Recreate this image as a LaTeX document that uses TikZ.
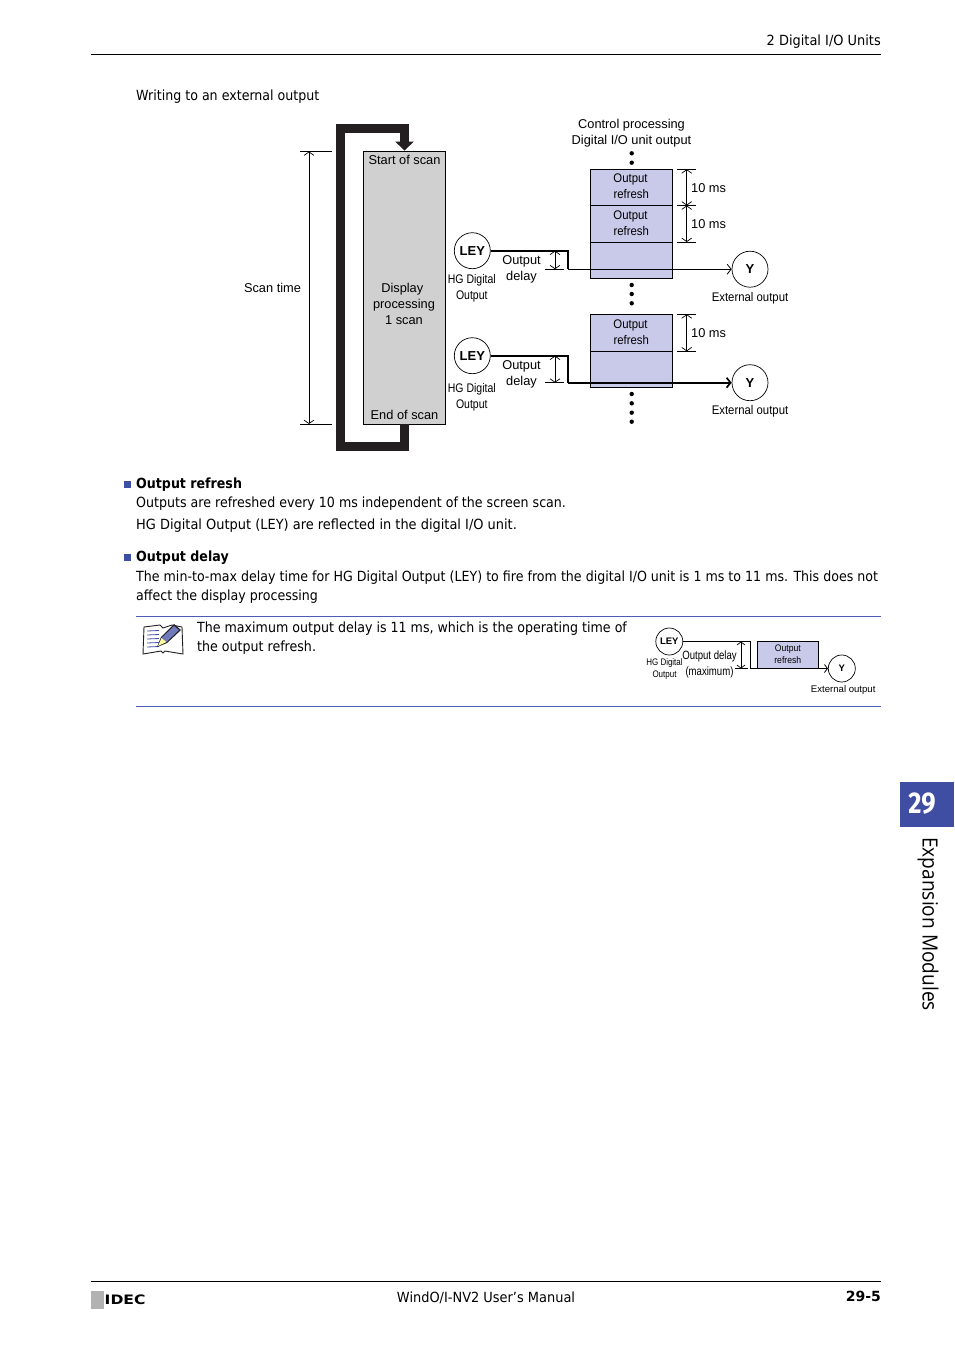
\documentclass[tikz,border=0pt]{standalone}
\usepackage{fontspec}
\usetikzlibrary{arrows.meta}
\setmainfont{Liberation Sans}
\newfontfamily\bodyfont[FakeStretch=0.902]{DejaVu Sans}
\newfontfamily\bodywide[FakeStretch=0.925]{DejaVu Sans}
\newfontfamily\pagefont{DejaVu Sans}
\newfontfamily\idecfont[FakeStretch=1.2]{DejaVu Sans}
\newfontfamily\hgfont[FakeStretch=0.84]{Liberation Sans}
\newfontfamily\delayfont[FakeStretch=0.8]{Liberation Sans}
\newfontfamily\extfont[FakeStretch=0.91]{Liberation Sans}
\newfontfamily\reffont[FakeStretch=0.91]{Liberation Sans}
\newfontfamily\tabfont[FakeStretch=0.85]{Fira Sans}
\newfontfamily\sidefont[FakeStretch=0.91]{Open Sans}
\definecolor{loopblack}{HTML}{231F20}
\definecolor{scangray}{HTML}{D0D0D0}
\definecolor{refreshblue}{HTML}{C9C9E9}
\definecolor{tabblue}{HTML}{3F4EA3}
\definecolor{noteblue}{HTML}{4A5CB8}
\tikzset{
  body/.style={anchor=base west, inner sep=0pt, font=\bodyfont\fontsize{14}{16}\selectfont},
  bodyhead/.style={body, font=\bodyfont\bfseries\fontsize{14}{16}\selectfont},
  lbl/.style={inner sep=0pt, font=\fontsize{12.8}{16}\selectfont, align=center},
  hglbl/.style={inner sep=0pt, font=\hgfont\fontsize{12.5}{16}\selectfont, align=center},
  extlbl/.style={inner sep=0pt, font=\extfont\fontsize{12.5}{16}\selectfont},
  scanbox/.style={draw, fill=scangray, line width=0.8pt, minimum width=82pt, minimum height=273pt, inner sep=0pt},
  refreshbox/.style={draw, fill=refreshblue, line width=0.8pt, minimum width=82pt, inner sep=0pt, text depth=2pt, align=center, font=\reffont\fontsize{12.5}{16}\selectfont},
  ioball/.style={draw, circle, line width=0.7pt, minimum size=36pt, inner sep=0pt, font=\bfseries\fontsize{13}{15}\selectfont},
  smallball/.style={draw, circle, line width=0.7pt, minimum size=27pt, inner sep=0pt, font=\bfseries\fontsize{9.5}{11}\selectfont},
  dimline/.style={line width=0.7pt, {Straight Barb[length=3.5pt,width=10pt]}-{Straight Barb[length=3.5pt,width=10pt]}},
  tick/.style={line width=0.7pt},
  sigthick/.style={line width=1.7pt},
  sigthin/.style={line width=0.8pt},
  sigarrow/.style={-{Straight Barb[length=4pt,width=10pt]}},
  dotnode/.style={circle, fill=black, inner sep=0pt, minimum size=4.4pt},
  pagerule/.style={line width=0.8pt},
  noterule/.style={line width=0.8pt, noteblue},
  bulletbox/.style={fill=tabblue, inner sep=0pt, minimum size=7pt}
}
\begin{document}
\begin{tikzpicture}[x=1pt, y=-1pt]
  \useasboundingbox (0,0) rectangle (954,1350);
  \fill[white] (0,0) rectangle (954,1350);

  % Header
  \node[body, anchor=base east, font=\bodywide\fontsize{14}{16}\selectfont] (header) at (881,45) {2 Digital I/O Units};
  \draw[pagerule] (91,54) -- (881,54);
  \node[body] (intro) at (136,100) {Writing to an external output};

  % Scan loop
  \node[scanbox] (scan) at (404.5,287.5) {};
  \draw[line width=9pt, loopblack, -{Triangle[length=9pt,width=18pt]}]
    (scan.south) -- (404.5,446.5) -- (340.5,446.5) -- (340.5,128.5) -- (404.5,128.5) -- (scan.north);
  \node[lbl] (scanstart) at (404.5,159.5) {Start of scan};
  \node[lbl] (scanmid) at (404,303.5) {Display\kern3.5pt\\processing\\1 scan};
  \node[lbl] (scanend) at (404.5,414.5) {End of scan};

  % Scan time
  \coordinate (stA) at (309,151.5);
  \coordinate (stB) at (309,424);
  \draw[tick] (300,151.5) -- (332,151.5);
  \draw[tick] (300,424) -- (332,424);
  \draw[dimline] (stA) -- (stB);
  \node[lbl] (scantime) at (272.5,288) {Scan time};

  % Output refresh blocks
  \node[refreshbox, minimum height=36pt] (rA) at (631.3,187.3) {Output\kern1.5pt\\refresh};
  \node[refreshbox, minimum height=37pt] (rB) at (631.3,223.8) {Output\kern1.5pt\\refresh};
  \node[refreshbox, minimum height=36pt] (rC) at (631.3,260.3) {};
  \node[refreshbox, minimum height=37pt] (rD) at (631.3,332.8) {Output\kern1.5pt\\refresh};
  \node[refreshbox, minimum height=36pt] (rE) at (631.3,369.3) {};
  \node[lbl] (ctrl) at (631.5,133) {Control processing\\Digital I/O unit output};

  % Dots
  \foreach \y in {153.3,162.7,285,294,303.3,394,403.3,412.7,421.7}
    \node[dotnode] at (631.7,\y) {};

  % 10 ms
  \foreach \y in {169.3,205.5,242,314.3,351.3}
    \draw[tick] (677,\y) -- (695.7,\y);
  \coordinate (tA) at (686.7,169.3);
  \coordinate (tB) at (686.7,205.5);
  \coordinate (tC) at (686.7,242);
  \coordinate (tD) at (686.7,314.3);
  \coordinate (tE) at (686.7,351.3);
  \draw[dimline] (tA) -- (tB);
  \draw[dimline] (tB) -- (tC);
  \draw[dimline] (tD) -- (tE);
  \node[lbl, anchor=west] (msA) at (691,188.5) {10 ms};
  \node[lbl, anchor=west] (msB) at (691,224.5) {10 ms};
  \node[lbl, anchor=west] (msC) at (691,333.5) {10 ms};

  % LEY and Y, first
  \node[ioball] (leyA) at (472.3,250.7) {LEY};
  \node[hglbl] (hgA) at (471.8,288) {HG Digital\\Output};
  \node[ioball] (yA) at (750,269.2) {Y};
  \node[extlbl] (extA) at (750,298) {External output};
  \coordinate (dropA) at (568,269.2);
  \draw[sigthick] (leyA.east) -- (568,250.7) -- (dropA);
  \draw[sigthin, sigarrow] (dropA) -- (yA.west);
  \node[lbl] (delayA) at (521.5,269) {Output\\delay};
  \coordinate (dA) at (555,250.7);
  \coordinate (dB) at (555,269.2);
  \draw[tick] (545,269.2) -- (564,269.2);
  \draw[dimline] (dA) -- (dB);

  % LEY and Y, second
  \node[ioball] (leyB) at (472.3,355.7) {LEY};
  \node[hglbl] (hgB) at (471.8,397) {HG Digital\\Output};
  \node[ioball] (yB) at (750,382.7) {Y};
  \node[extlbl] (extB) at (750,411) {External output};
  \coordinate (dropB) at (568,382.7);
  \draw[sigthick] (leyB.east) -- (568,355.7) -- (dropB);
  \draw[sigthick, sigarrow] (dropB) -- (yB.west);
  \node[lbl] (delayB) at (521.5,374) {Output\\delay};
  \coordinate (dC) at (555,355.7);
  \coordinate (dD) at (555,382.7);
  \draw[tick] (545,382.7) -- (564,382.7);
  \draw[dimline] (dC) -- (dD);

  % Text
  \node[bulletbox] (bulA) at (127,484) {};
  \node[bodyhead] (headA) at (136,488) {Output refresh};
  \node[body] (lineA) at (136,507) {Outputs are refreshed every 10 ms independent of the screen scan.};
  \node[body, font=\bodywide\fontsize{14}{16}\selectfont] (lineB) at (136,529) {HG Digital Output (LEY) are reflected in the digital I/O unit.};
  \node[bulletbox] (bulB) at (127,557) {};
  \node[bodyhead] (headB) at (136,561) {Output delay};
  \node[body] (lineC) at (136,581) {The min-to-max delay time for HG Digital Output (LEY) to fire from the digital I/O unit is 1 ms to 11 ms. This does not};
  \node[body] (lineD) at (136,600) {affect the display processing};

  % Note
  \draw[noterule] (136,616.5) -- (881,616.5);
  \draw[noterule] (136,706.5) -- (881,706.5);
  \node[body] (noteA) at (197,632) {The maximum output delay is 11 ms, which is the operating time of};
  \node[body] (noteB) at (197,651) {the output refresh.};

  % Note icon
  \draw[line width=0.9pt, fill=white, draw=loopblack] (144,627) -- (160,625) -- (163,628) -- (172,625) -- (182,627) -- (183,654)
    -- (165,651) -- (163,653) -- (161,651) -- (143,654) -- cycle;
  \foreach \y in {631,635,639,643,647}
    \draw[line width=0.8pt, tabblue] (147,\y) -- (159,\y-0.5);
  \fill[loopblack] (157,647) -- (161,637) -- (174,624) -- (181,630) -- (167,643) -- cycle;
  \fill[tabblue!75!white] (161.5,638) -- (174,626) -- (179,630) -- (166.5,642) -- cycle;
  \fill[yellow!35] (158,646) -- (161.5,638) -- (166.5,642) -- cycle;

  % Small diagram
  \node[smallball] (leyC) at (669.3,641.5) {LEY};
  \node[smallball] (yC) at (841.8,668.5) {Y};
  \node[refreshbox, minimum width=61pt, minimum height=27pt, font=\reffont\fontsize{9.5}{12}\selectfont] (rF) at (787.8,654.8) {Output\\refresh};
  \coordinate (dropC) at (750,668.5);
  \draw[sigthin] (leyC.east) -- (750,641.5) -- (dropC);
  \draw[sigthin, -{Straight Barb[length=3pt,width=8pt]}] (dropC) -- (yC.west);
  \coordinate (dE) at (741,641.5);
  \coordinate (dF) at (741,668.5);
  \draw[tick] (735,668.5) -- (747.5,668.5);
  \draw[line width=0.7pt, {Straight Barb[length=3pt,width=8pt]}-{Straight Barb[length=3pt,width=8pt]}] (dE) -- (dF);
  \node[hglbl, font=\delayfont\fontsize{12}{16}\selectfont] (delayC) at (709.5,664) {Output delay\\(maximum)};
  \node[hglbl, font=\hgfont\fontsize{9.5}{12}\selectfont] (hgC) at (664.5,669) {HG Digital\\Output};
  \node[lbl, font=\fontsize{9.6}{11}\selectfont] (extC) at (843.2,689.8) {External output};

  % Side tab
  \fill[tabblue] (900,782) rectangle (954,827);
  \node[inner sep=0pt, text=white, font=\tabfont\bfseries\fontsize{30}{32}\selectfont] (tabnum) at (922,804) {29};
  \node[inner sep=0pt, rotate=-90, anchor=west, font=\sidefont\fontsize{21}{24}\selectfont] (tabtext) at (928,837) {Expansion Modules};

  % Footer
  \draw[pagerule] (91,1281.5) -- (881,1281.5);
  \fill[gray!60] (91,1290.5) rectangle (104,1308.5);
  \node[inner sep=0pt, anchor=base west, font=\idecfont\bfseries\fontsize{13}{15}\selectfont] (idec) at (104.5,1304.5) {IDEC};
  \node[body, anchor=base, font=\bodywide\fontsize{14}{16}\selectfont] (manual) at (486,1302) {WindO/I-NV2 User’s Manual};
  \node[bodyhead, anchor=base east, font=\pagefont\bfseries\fontsize{14}{16}\selectfont] (pageno) at (881,1301) {29-5};
\end{tikzpicture}
\end{document}
